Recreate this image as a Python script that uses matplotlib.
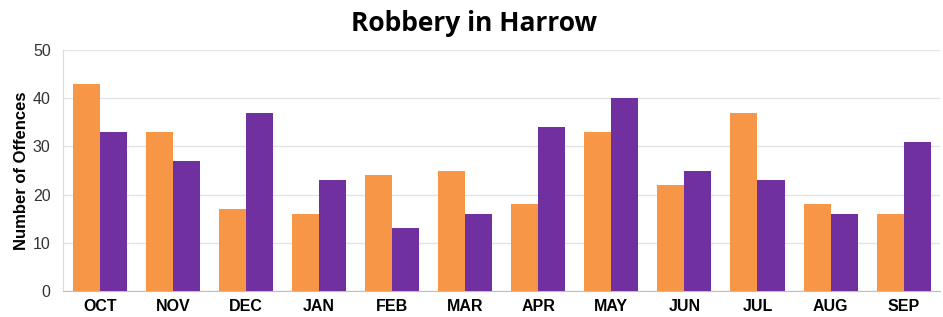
import matplotlib
matplotlib.use("Agg")
import matplotlib.pyplot as plt
import numpy as np

# data
months = ["OCT", "NOV", "DEC", "JAN", "FEB", "MAR", "APR", "MAY", "JUN", "JUL", "AUG", "SEP"]
orange_vals = [43, 33, 17, 16, 24, 25, 18, 33, 22, 37, 18, 16]
purple_vals = [33, 27, 37, 23, 13, 16, 34, 40, 25, 23, 16, 31]
yticks = [0, 10, 20, 30, 40, 50]

plt.rcParams['font.family'] = ['Liberation Sans', 'DejaVu Sans']

fig = plt.figure(figsize=(9.43, 3.17), dpi=100)
ax = fig.add_axes([0.067, 0.082, 0.930, 0.760])

x = np.arange(len(months))
w = 0.37
ax.bar(x - w / 2, orange_vals, width=w, color="#F79646", zorder=3)
ax.bar(x + w / 2, purple_vals, width=w, color="#7030A0", zorder=3)

ax.set_xlim(-0.5, len(months) - 0.5)
ax.set_ylim(0, 50)
ax.set_yticks(yticks)
ax.set_xticks(x)
ax.set_xticklabels(months, fontsize=11.5, fontweight="bold")
ax.tick_params(axis="y", labelsize=11.5, length=0, pad=9, labelcolor="#333333")
ax.tick_params(axis="x", length=0, pad=6)
ax.grid(axis="y", color="#E3E3E3", linewidth=1, zorder=0)

for side in ["top", "right"]:
    ax.spines[side].set_visible(False)
ax.spines["left"].set_color("#D9D9D9")
ax.spines["bottom"].set_color("#BFBFBF")

ax.set_ylabel("Number of Offences", fontsize=12, fontweight="bold", labelpad=3)
fig.text(0.503, 0.925, "Robbery in Harrow", ha="center", va="center",
         fontsize=19, fontweight="bold", family=["Open Sans", "DejaVu Sans"])

fig.savefig("out.png", dpi=100)
